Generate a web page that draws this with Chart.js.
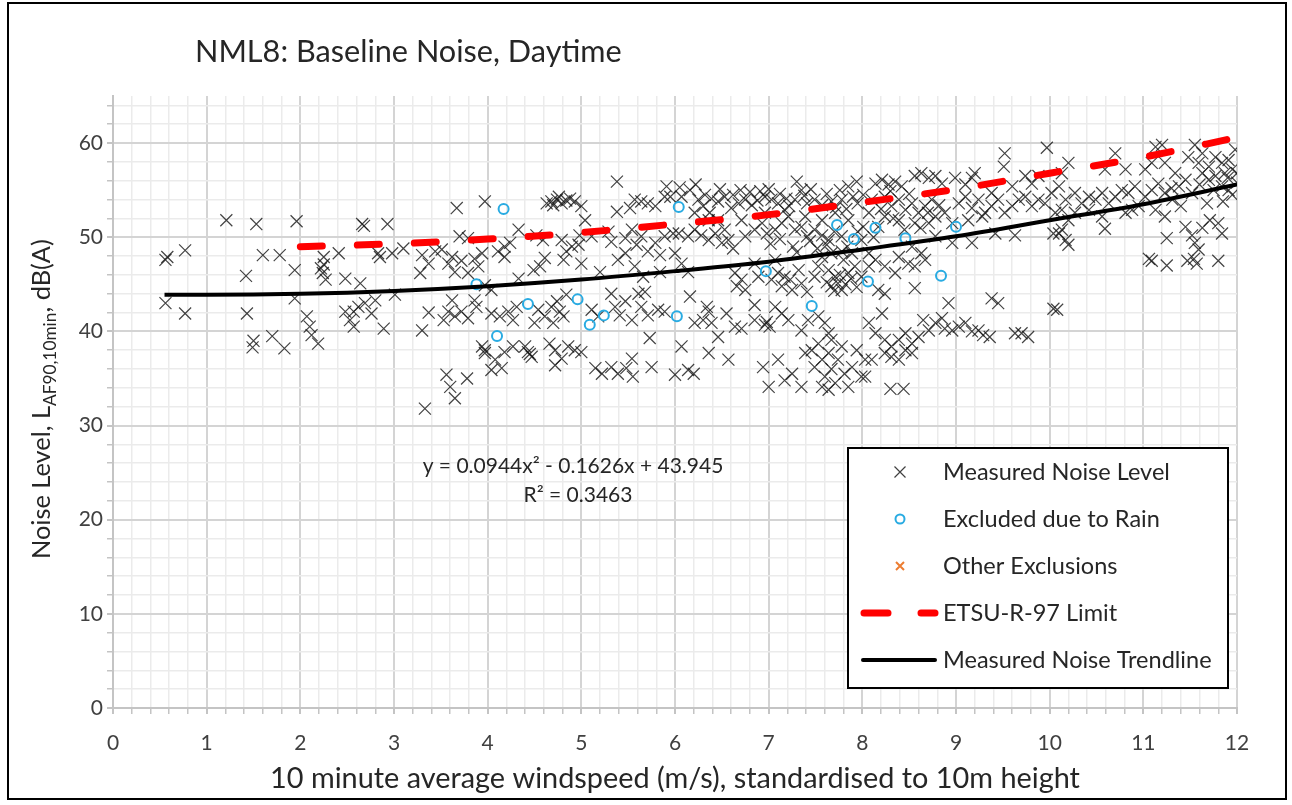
<!DOCTYPE html>
<html lang="en">
<head>
<meta charset="UTF-8">
<title>NML8: Baseline Noise, Daytime</title>
<script src="https://cdn.jsdelivr.net/npm/chart.js"></script>
<style>
  body { margin: 0; background: #fff; }
  #wrap { width: 1292px; height: 805px; }
</style>
</head>
<body>
<div id="wrap"><canvas id="noiseChart" width="1292" height="805"></canvas></div>
<script>
// [windspeed m/s, LA90 dB]
const measured = [
  [1.21,51.8],[1.53,51.4],[1.96,51.7],[0.56,47.6],[0.58,47.9],[0.77,48.6],[1.60,48.1],[1.78,48.1],[1.94,46.5],[1.42,45.9],
  [0.56,43.0],[0.77,41.9],[1.43,41.9],[1.50,39.0],[1.49,38.3],[1.70,39.5],[1.83,38.2],[1.94,43.5],
  [2.66,51.4],[2.68,51.2],[2.93,51.4],[3.67,53.1],[3.97,53.8],
  [2.25,47.9],[2.25,47.1],[2.24,46.2],[2.27,45.5],[2.22,46.7],[2.41,48.3],[2.48,45.6],[2.64,45.1],[2.83,48.3],[2.85,47.9],
  [2.98,48.3],[3.10,48.8],[3.30,48.1],[3.37,47.2],[3.28,46.2],[3.44,48.5],[3.51,48.7],[3.58,47.2],[3.62,47.9],[3.65,46.3],
  [3.72,47.5],[3.79,46.2],[3.86,47.7],[3.70,50.1],[3.79,49.9],[3.90,46.9],[3.94,48.3],
  [2.07,41.6],[2.10,40.5],[2.12,39.6],[2.19,38.7],[2.48,42.1],[2.57,42.1],[2.62,42.6],[2.76,41.9],[2.57,40.5],[2.53,41.2],
  [2.69,43.0],[2.80,43.3],[3.01,43.9],[2.89,40.3],[3.30,40.1],[3.37,42.0],[3.53,41.2],[3.58,42.1],[3.65,41.6],[3.72,42.1],
  [3.79,41.4],[3.86,43.3],[3.88,42.6],[3.62,43.3],[3.94,38.4],[3.97,37.7],[3.56,35.4],[3.60,34.1],[3.65,32.9],[3.78,35.0],[3.33,31.8],
  [5.38,55.9],[4.63,53.6],[4.68,53.8],[4.74,54.0],[4.79,53.6],[4.88,54.1],[4.93,53.8],[5.00,53.3],[5.52,53.1],[5.57,54.0],
  [5.64,53.8],[5.71,53.6],[5.79,53.3],[5.91,55.4],[5.89,54.3],[5.95,54.3],[5.38,52.7],[4.70,53.4],[4.76,54.3],[4.84,53.9],
  [4.33,50.8],[4.18,49.0],[4.18,47.9],[4.11,48.5],[4.24,49.4],[4.52,50.2],[4.59,49.7],[4.56,46.9],[4.49,46.5],[4.61,47.8],
  [4.79,49.7],[4.84,48.5],[4.90,49.0],[4.81,47.6],[4.98,50.2],[5.04,51.8],[4.97,49.2],[5.11,50.1],[5.00,47.2],[5.20,46.3],
  [5.32,49.5],[5.29,50.6],[5.47,49.9],[5.47,48.3],[5.39,47.6],[5.54,50.8],[5.64,50.1],[5.71,48.5],[5.59,49.2],[5.79,49.4],
  [5.84,48.1],[5.89,50.1],[5.98,50.4],[5.57,46.9],[5.66,45.8],[5.84,46.3],
  [4.04,41.9],[4.13,41.6],[4.22,42.1],[4.31,42.6],[4.27,41.2],[4.54,42.3],[4.61,41.6],[4.68,42.6],[4.74,43.2],[4.77,42.1],
  [4.81,41.6],[4.84,43.9],[4.70,40.9],[4.50,40.9],[5.11,42.3],[5.18,41.6],[5.32,44.0],[5.36,42.6],[5.41,41.7],[5.47,43.2],
  [5.54,41.2],[5.61,44.0],[5.68,44.2],[5.64,42.6],[5.71,41.7],[5.73,39.3],[5.82,42.3],[5.89,42.1],
  [3.97,38.0],[4.08,37.0],[4.15,36.1],[4.04,35.9],[4.18,37.8],[4.27,38.4],[4.43,37.8],[4.47,37.3],[4.45,37.6],[4.40,38.4],
  [4.66,38.7],[4.72,38.0],[4.72,36.4],[4.86,38.4],[4.93,38.0],[5.00,37.8],[4.79,37.1],[5.15,36.1],[5.22,35.5],[5.32,36.2],
  [5.39,35.5],[5.48,36.1],[5.54,37.1],[5.55,35.2],[5.75,36.2],[6.00,35.4],[3.97,44.9],[4.33,45.6],[4.04,44.4],
  [6.16,55.0],[6.07,54.3],[6.25,54.0],[6.32,54.5],[6.39,54.1],[6.46,53.8],[6.53,54.3],[6.62,54.5],[6.68,53.6],[6.75,54.0],
  [6.82,53.4],[6.91,54.9],[6.96,54.3],[7.03,54.0],[7.10,53.6],[7.19,54.1],[7.30,55.9],[7.35,55.0],[7.28,54.0],[7.41,53.6],
  [7.49,54.0],[7.57,53.4],[7.67,53.8],[7.76,55.0],[7.85,55.4],[7.94,55.9],[7.90,54.3],[8.01,54.5],[7.78,54.0],
  [6.05,55.3],[6.22,55.6],[6.30,53.3],[6.48,55.1],[6.60,53.1],[6.70,55.0],[6.80,54.8],[6.88,53.9],[7.00,55.1],[7.12,54.6],
  [7.22,53.3],[7.38,54.4],[7.45,55.1],[7.62,54.6],[7.72,53.2],[7.83,53.0],[7.95,53.6],
  [6.04,50.4],[6.14,50.1],[6.21,50.8],[6.28,50.2],[6.36,49.7],[6.43,50.4],[6.50,49.4],[6.57,49.7],[6.62,48.8],[6.53,50.8],
  [6.46,51.8],[6.37,52.6],[6.36,51.8],[6.71,51.8],[6.75,50.1],[6.85,50.8],[6.93,51.5],[6.98,50.4],[7.07,50.8],[7.14,51.5],
  [7.21,52.2],[7.28,50.8],[7.35,51.1],[7.41,50.1],[7.49,50.8],[7.57,50.2],[7.64,49.7],[7.57,51.8],[7.39,52.2],[7.78,50.1],
  [7.85,51.8],[8.01,51.1],[7.99,49.7],[7.71,52.6],[7.17,52.9],[6.96,52.6],[6.21,52.6],
  [7.02,49.3],[7.12,49.8],[7.26,49.0],[7.44,49.6],[7.52,48.8],[7.62,49.2],[7.70,50.6],[7.84,49.0],[7.95,50.6],[7.30,48.4],
  [6.07,47.2],[6.14,46.3],[6.00,48.3],[6.64,46.2],[6.71,45.5],[6.75,44.4],[6.66,44.8],[6.89,45.8],[7.03,45.5],[7.10,46.2],
  [7.17,45.8],[7.14,44.8],[7.23,45.5],[7.25,44.4],[7.35,45.1],[7.41,44.2],[7.32,46.5],[7.53,46.9],[7.49,45.8],[7.64,46.5],
  [7.71,45.8],[7.74,45.1],[7.78,44.4],[7.67,44.8],[7.85,46.2],[7.92,46.9],[7.99,45.8],[7.80,47.6],[7.89,48.3],[7.57,47.9],
  [7.67,48.3],[7.78,48.5],[7.07,47.6],[6.85,47.2],[7.62,45.2],[7.70,44.3],[7.76,46.0],[7.82,45.0],[7.88,45.6],[7.94,44.7],
  [6.16,43.7],[6.34,42.6],[6.36,42.1],[6.30,41.2],[6.39,40.9],[6.21,40.9],[6.46,39.4],[6.55,41.9],[6.64,40.5],[6.71,40.3],
  [6.85,41.2],[6.96,40.7],[7.01,40.5],[6.98,41.0],[6.85,42.8],[7.07,42.6],[7.14,41.9],[7.35,40.1],[7.42,41.2],[7.53,41.6],
  [7.60,40.9],[7.64,39.8],[7.67,39.1],[7.21,41.2],
  [6.07,38.4],[6.36,37.7],[6.57,37.0],[6.14,35.9],[6.20,35.5],[6.94,36.2],[7.00,34.1],[7.10,37.0],[7.17,34.8],[7.25,35.5],
  [7.35,34.1],[7.39,37.7],[7.46,38.0],[7.49,36.2],[7.53,38.7],[7.57,37.0],[7.60,35.2],[7.64,37.7],[7.67,36.0],[7.71,34.5],
  [7.74,37.0],[7.78,38.4],[7.81,35.5],[7.85,34.1],[7.89,36.2],[7.94,38.0],[7.99,35.2],[8.03,37.0],[7.57,34.1],[7.64,33.8],
  [8.14,55.7],[8.21,56.1],[8.28,55.6],[8.35,55.9],[8.42,55.4],[8.56,56.5],[8.63,56.8],[8.71,56.3],[8.78,56.5],[8.85,55.7],
  [8.99,56.3],[9.10,55.6],[9.20,56.8],[9.17,56.3],[9.52,58.9],[9.51,57.5],[9.97,59.5],[9.74,56.5],[9.81,55.7],[9.88,56.5],
  [9.60,55.4],[9.38,54.7],
  [8.10,54.0],[8.24,54.3],[8.31,53.3],[8.39,54.0],[8.46,52.9],[8.53,53.6],[8.60,52.6],[8.67,53.3],[8.74,54.0],[8.78,52.2],
  [8.71,51.5],[8.56,51.5],[8.39,51.8],[8.24,52.2],[8.17,51.1],[8.07,52.6],[9.03,53.6],[9.10,54.3],[9.17,53.1],[9.24,54.0],
  [9.31,52.6],[9.38,53.3],[9.45,54.0],[9.52,52.6],[9.60,53.3],[9.67,54.0],[9.74,54.3],[9.81,53.3],[9.88,54.0],[9.95,53.6],
  [10.02,54.7],[10.06,52.6],[9.13,51.8],[9.28,52.2],[9.42,50.4],[9.63,50.2],[8.96,51.5],[8.88,52.6],
  [8.20,53.0],[8.33,52.0],[8.45,50.8],[8.62,51.0],[8.70,52.6],[8.50,54.6],[8.30,54.9],[8.82,53.4],[8.12,50.0],
  [8.07,48.3],[8.14,47.6],[8.24,46.9],[8.39,47.9],[8.49,47.2],[8.56,46.9],[8.53,49.0],[8.63,48.3],[8.67,47.6],[8.35,46.2],
  [8.24,44.0],[8.17,44.4],[8.56,44.6],[8.07,46.9],[8.96,49.4],[9.17,49.4],[8.78,50.1],[10.04,50.4],
  [8.21,41.9],[8.07,40.9],[8.14,39.8],[8.24,39.1],[8.31,38.4],[8.39,39.1],[8.46,38.0],[8.53,38.7],[8.60,39.4],[8.65,41.2],
  [8.71,40.1],[8.78,40.9],[8.85,41.4],[8.92,43.0],[8.88,40.3],[8.96,40.1],[9.03,40.5],[9.10,40.9],[9.17,40.0],[9.24,40.1],
  [9.29,39.6],[9.36,39.4],[9.38,43.5],[9.45,43.0],[9.63,39.8],[9.70,39.8],[9.77,39.4],[10.04,42.4],[8.53,37.7],[8.39,37.0],
  [8.24,37.7],[8.10,37.0],[8.31,37.3],[8.46,39.8],[8.03,35.2],[8.30,33.9],[8.44,33.9],
  [10.20,57.9],[10.13,56.8],[10.70,58.9],[10.59,57.2],[10.81,57.2],[11.13,59.6],[11.20,59.8],[11.09,57.9],[11.23,57.9],[11.55,59.8],
  [11.63,58.9],[11.59,57.9],[11.48,58.5],[11.70,57.5],[11.77,58.5],[11.84,57.9],[11.91,58.2],[11.98,59.3],[11.95,57.2],[12.00,56.8],
  [11.87,56.8],[11.77,56.5],[11.70,56.1],[11.84,55.4],[11.91,55.0],
  [11.60,55.6],[11.75,55.0],[11.90,56.3],[11.95,54.5],[11.68,53.6],[11.40,53.3],[11.30,55.2],[11.85,53.8],[12.00,55.8],
  [10.10,55.4],[10.17,54.0],[10.27,54.7],[10.34,53.6],[10.42,54.3],[10.49,54.0],[10.56,54.7],[10.63,53.6],[10.70,54.3],[10.77,55.0],
  [10.84,54.7],[10.91,55.4],[10.95,53.3],[11.02,54.3],[11.09,55.0],[11.16,55.7],[11.23,54.7],[11.31,54.0],[11.38,55.4],[11.45,56.1],
  [11.52,54.7],[11.63,56.8],[11.34,56.8],[11.02,57.2],[10.88,52.9],[10.81,52.6],[10.56,52.2],[10.42,52.9],[10.27,52.6],[10.13,52.9],
  [10.20,51.8],[11.13,52.9],[11.23,52.2],[10.59,50.9],[10.13,50.8],[10.17,49.7],[10.20,49.2],[10.10,50.4],
  [11.25,49.9],[11.45,51.1],[11.52,50.2],[11.63,51.0],[11.71,51.8],[11.80,51.5],[11.84,50.4],[11.55,49.4],[11.59,48.7],
  [11.06,47.7],[11.09,47.5],[11.25,47.0],[11.47,47.5],[11.54,47.7],[11.57,47.2],[11.80,47.5],[10.08,42.3]
];

const rainExcluded = [
  [3.88,45.0],[4.17,53.0],[4.43,42.9],[4.10,39.5],[4.96,43.4],[5.09,40.7],[5.24,41.7],[6.02,41.6],[6.04,53.2],
  [6.97,46.4],[7.46,42.7],[7.73,51.3],[7.91,49.8],[8.06,45.3],[8.14,51.0],[8.46,49.9],[8.84,45.9],[9.00,51.1]
];

const otherExcluded = [];

const trendWind  = [0.55, 1, 2, 3, 4, 5, 6, 7, 8, 9, 10, 11, 12];
const trendNoise = [43.9, 43.9, 44.0, 44.3, 44.8, 45.5, 46.4, 47.4, 48.7, 50.1, 51.8, 53.5, 55.6];

const limitWind  = [2, 3, 4, 5, 6, 7, 8, 9, 10, 11, 12];
const limitNoise = [49.0, 49.3, 49.8, 50.5, 51.4, 52.4, 53.7, 55.1, 56.8, 58.5, 60.6];

const FONT = 'Lato, "Open Sans", sans-serif';
const TEXT = '#262626';

function isMajor(v, step) {
  return Math.abs(v / step - Math.round(v / step)) < 1e-6;
}

// font size that makes text span the given width
function fitSize(ctx, text, width) {
  ctx.font = '20px ' + FONT;
  return 20 * width / ctx.measureText(text).width;
}

function drawX(ctx, x, y, half, color, width) {
  ctx.beginPath();
  ctx.moveTo(x - half, y - half); ctx.lineTo(x + half, y + half);
  ctx.moveTo(x + half, y - half); ctx.lineTo(x - half, y + half);
  ctx.strokeStyle = color; ctx.lineWidth = width;
  ctx.stroke();
}

// title, axis titles, equation, legend box, outer frame
const overlay = {
  id: 'overlay',
  afterDraw(chart) {
    const ctx = chart.ctx;
    ctx.save();

    ctx.strokeStyle = '#000';
    ctx.lineWidth = 2;
    ctx.strokeRect(8, 3, 1278, 796);

    ctx.fillStyle = TEXT;
    ctx.textBaseline = 'middle';
    ctx.textAlign = 'left';
    const title = 'NML8: Baseline Noise, Daytime';
    ctx.font = fitSize(ctx, title, 427) + 'px ' + FONT;
    ctx.fillText(title, 195, 52);

    ctx.textAlign = 'center';
    const xTitle = '10 minute average windspeed (m/s), standardised to 10m height';
    ctx.font = fitSize(ctx, xTitle, 810) + 'px ' + FONT;
    ctx.fillText(xTitle, 675, 779);

    // y title with subscript
    ctx.save();
    ctx.translate(41, 399);
    ctx.rotate(-Math.PI / 2);
    ctx.textAlign = 'left';
    ctx.textBaseline = 'alphabetic';
    const parts = [['Noise Level, L', 1, 0], ['AF90,10min', 0.68, 0.22], [', dB(A)', 1, 0]];
    let total = 0;
    parts.forEach(p => { ctx.font = (20 * p[1]) + 'px ' + FONT; total += ctx.measureText(p[0]).width; });
    const ySize = 20 * 320 / total;
    let cx = -160;
    parts.forEach(p => {
      ctx.font = (ySize * p[1]) + 'px ' + FONT;
      ctx.fillText(p[0], cx, 9 + ySize * p[2]);
      cx += ctx.measureText(p[0]).width;
    });
    ctx.restore();

    ctx.textAlign = 'center';
    ctx.font = '21px ' + FONT;
    ctx.fillText('y = 0.0944x\u00b2 - 0.1626x + 43.945', 573, 466);
    ctx.fillText('R\u00b2 = 0.3463', 578, 495);

    // legend
    ctx.fillStyle = '#fff';
    ctx.fillRect(848, 448, 380, 240);
    ctx.strokeStyle = '#000';
    ctx.lineWidth = 2;
    ctx.strokeRect(848, 448, 380, 240);

    const rows = [472, 519, 566, 613, 660];
    drawX(ctx, 900, rows[0], 5.5, '#404040', 1.2);

    ctx.beginPath();
    ctx.arc(900, rows[1], 4.5, 0, Math.PI * 2);
    ctx.strokeStyle = '#29abe2'; ctx.lineWidth = 2; ctx.stroke();

    drawX(ctx, 900, rows[2], 4, '#ed7d31', 2);

    ctx.lineCap = 'round';
    ctx.strokeStyle = '#ff0000'; ctx.lineWidth = 7;
    ctx.beginPath();
    ctx.moveTo(864, rows[3]); ctx.lineTo(888, rows[3]);
    ctx.moveTo(921, rows[3]); ctx.lineTo(935, rows[3]);
    ctx.stroke();

    ctx.strokeStyle = '#000'; ctx.lineWidth = 4;
    ctx.beginPath();
    ctx.moveTo(863, rows[4]); ctx.lineTo(935, rows[4]);
    ctx.stroke();

    const labels = ['Measured Noise Level', 'Excluded due to Rain', 'Other Exclusions', 'ETSU-R-97 Limit', 'Measured Noise Trendline'];
    ctx.fillStyle = TEXT;
    ctx.textAlign = 'left';
    ctx.textBaseline = 'middle';
    ctx.font = fitSize(ctx, labels[0], 227) + 'px ' + FONT;
    labels.forEach((t, i) => ctx.fillText(t, 943, rows[i]));

    ctx.restore();
  }
};

const ctx = document.getElementById('noiseChart').getContext('2d');
new Chart(ctx, {
  type: 'scatter',
  data: {
    datasets: [
      {
        label: 'Measured Noise Trendline',
        data: trendWind.map((x, i) => ({ x: x, y: trendNoise[i] })),
        showLine: true,
        borderColor: '#000',
        borderWidth: 4,
        pointRadius: 0,
        cubicInterpolationMode: 'monotone',
        order: 0
      },
      {
        label: 'ETSU-R-97 Limit',
        data: limitWind.map((x, i) => ({ x: x, y: limitNoise[i] })),
        showLine: true,
        borderColor: '#ff0000',
        borderWidth: 7,
        borderDash: [22, 35],
        borderCapStyle: 'round',
        pointRadius: 0,
        cubicInterpolationMode: 'monotone',
        order: 1
      },
      {
        label: 'Excluded due to Rain',
        data: rainExcluded.map(p => ({ x: p[0], y: p[1] })),
        pointStyle: 'circle',
        pointRadius: 5,
        borderColor: '#29abe2',
        borderWidth: 2,
        backgroundColor: 'rgba(0,0,0,0)',
        order: 2
      },
      {
        label: 'Other Exclusions',
        data: otherExcluded.map(p => ({ x: p[0], y: p[1] })),
        pointStyle: 'crossRot',
        pointRadius: 6,
        borderColor: '#ed7d31',
        borderWidth: 2,
        order: 3
      },
      {
        label: 'Measured Noise Level',
        data: measured.map(p => ({ x: p[0], y: p[1] })),
        pointStyle: 'crossRot',
        pointRadius: 8.5,
        borderColor: 'rgba(20,20,20,0.8)',
        borderWidth: 1.2,
        order: 4
      }
    ]
  },
  options: {
    responsive: false,
    animation: false,
    devicePixelRatio: 1,
    layout: { padding: { top: 96, right: 55, bottom: 0, left: 0 } },
    plugins: {
      legend: { display: false },
      tooltip: { enabled: false }
    },
    scales: {
      x: {
        type: 'linear',
        min: 0,
        max: 12,
        afterFit: s => { s.height = 97; },
        ticks: {
          stepSize: 0.2,
          autoSkip: false,
          maxRotation: 0,
          includeBounds: false,
          padding: 17,
          color: '#404040',
          font: { family: FONT, size: 21 },
          callback: v => isMajor(v, 1) ? String(Math.round(v)) : ''
        },
        grid: {
          color: c => isMajor(c.tick.value, 1) ? '#d4d4d4' : '#ebebeb',
          lineWidth: c => isMajor(c.tick.value, 1) ? 2 : 1.5,
          tickLength: 6,
          tickColor: '#c4c4c4'
        },
        border: { color: '#c4c4c4', width: 2 }
      },
      y: {
        type: 'linear',
        min: 0,
        max: 65,
        afterFit: s => { s.width = 113; },
        ticks: {
          stepSize: 2,
          autoSkip: false,
          includeBounds: false,
          padding: 4,
          color: '#404040',
          font: { family: FONT, size: 21 },
          callback: v => isMajor(v, 10) ? String(Math.round(v)) : ''
        },
        grid: {
          color: c => isMajor(c.tick.value, 10) ? '#d4d4d4' : '#ebebeb',
          lineWidth: c => isMajor(c.tick.value, 10) ? 2 : 1.5,
          tickLength: 6,
          tickColor: '#c4c4c4'
        },
        border: { color: '#c4c4c4', width: 2 }
      }
    }
  },
  plugins: [overlay]
});
</script>
</body>
</html>
